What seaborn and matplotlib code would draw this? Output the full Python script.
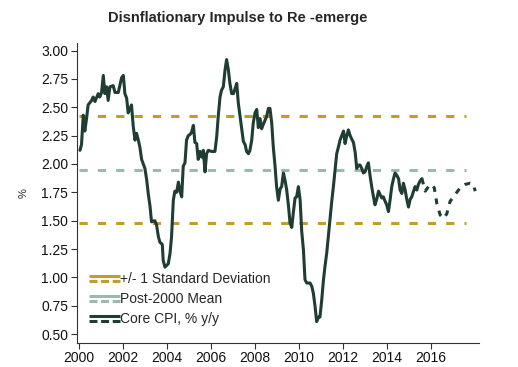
import matplotlib
matplotlib.use("Agg")
import matplotlib.pyplot as plt
from matplotlib.lines import Line2D
from matplotlib.legend_handler import HandlerBase
import numpy as np
import pandas as pd
import seaborn as sns

# traced core CPI, % y/y (year fraction, value)
cpi_years = [
    2000.05, 2000.12, 2000.20, 2000.27, 2000.35, 2000.42, 2000.58, 2000.65, 2000.73, 2000.88,
    2000.95, 2001.03, 2001.11, 2001.18, 2001.26, 2001.33, 2001.41, 2001.56, 2001.64, 2001.79,
    2001.94, 2002.02, 2002.09, 2002.17, 2002.24, 2002.32, 2002.39, 2002.47, 2002.55, 2002.62,
    2002.70, 2002.77, 2002.85, 2003.00, 2003.08, 2003.15, 2003.23, 2003.30, 2003.45, 2003.53,
    2003.61, 2003.68, 2003.79, 2003.83, 2003.91, 2004.06, 2004.14, 2004.21, 2004.29, 2004.36,
    2004.44, 2004.52, 2004.59, 2004.67, 2004.74, 2004.82, 2004.89, 2004.97, 2005.05, 2005.12,
    2005.20, 2005.27, 2005.35, 2005.42, 2005.50, 2005.58, 2005.65, 2005.73, 2005.80, 2005.88,
    2006.03, 2006.18, 2006.26, 2006.33, 2006.41, 2006.48, 2006.56, 2006.64, 2006.71, 2006.79,
    2006.86, 2006.94, 2007.02, 2007.09, 2007.17, 2007.24, 2007.32, 2007.39, 2007.47, 2007.55,
    2007.62, 2007.70, 2007.77, 2007.85, 2007.92, 2008.00, 2008.08, 2008.15, 2008.23, 2008.30,
    2008.38, 2008.53, 2008.61, 2008.68, 2008.76, 2008.83, 2008.91, 2008.98, 2009.06, 2009.14,
    2009.21, 2009.29, 2009.36, 2009.44, 2009.52, 2009.59, 2009.67, 2009.74, 2009.82, 2009.89,
    2009.97, 2010.05, 2010.12, 2010.20, 2010.27, 2010.35, 2010.50, 2010.58, 2010.65, 2010.73,
    2010.80, 2010.88, 2010.95, 2011.03, 2011.11, 2011.18, 2011.26, 2011.33, 2011.41, 2011.48,
    2011.56, 2011.64, 2011.71, 2011.79, 2011.86, 2011.94, 2012.02, 2012.09, 2012.17, 2012.24,
    2012.32, 2012.39, 2012.47, 2012.55, 2012.62, 2012.70, 2012.77, 2012.85, 2012.92, 2013.00,
    2013.08, 2013.15, 2013.23, 2013.30, 2013.38, 2013.45, 2013.53, 2013.61, 2013.68, 2013.76,
    2013.83, 2013.91, 2013.98, 2014.06, 2014.14, 2014.21, 2014.29, 2014.36, 2014.44, 2014.52,
    2014.59, 2014.67, 2014.74, 2014.82, 2014.89, 2014.97, 2015.05, 2015.12, 2015.20, 2015.27,
    2015.35, 2015.42, 2015.50, 2015.58,
]
cpi_values = [
    2.12, 2.17, 2.43, 2.29, 2.40, 2.52, 2.56, 2.59, 2.55, 2.62,
    2.59, 2.63, 2.78, 2.62, 2.68, 2.56, 2.68, 2.69, 2.63, 2.63,
    2.76, 2.78, 2.62, 2.58, 2.45, 2.49, 2.52, 2.33, 2.21, 2.27,
    2.21, 2.15, 2.04, 1.96, 1.86, 1.74, 1.63, 1.49, 1.50, 1.46,
    1.36, 1.31, 1.29, 1.15, 1.09, 1.12, 1.21, 1.36, 1.68, 1.76,
    1.75, 1.84, 1.76, 1.71, 1.98, 2.01, 2.21, 2.25, 2.26, 2.28,
    2.34, 2.19, 2.18, 2.04, 2.11, 2.06, 2.12, 1.93, 2.09, 2.12,
    2.11, 2.11, 2.24, 2.42, 2.59, 2.65, 2.68, 2.83, 2.92, 2.83,
    2.71, 2.62, 2.62, 2.66, 2.71, 2.54, 2.42, 2.31, 2.20, 2.17,
    2.11, 2.09, 2.12, 2.21, 2.36, 2.45, 2.48, 2.32, 2.40, 2.31,
    2.35, 2.42, 2.49, 2.49, 2.36, 2.15, 1.98, 1.80, 1.68, 1.78,
    1.80, 1.92, 1.86, 1.77, 1.63, 1.48, 1.44, 1.57, 1.70, 1.71,
    1.80, 1.68, 1.41, 1.24, 0.98, 0.95, 0.95, 0.92, 0.86, 0.74,
    0.61, 0.65, 0.65, 0.80, 0.98, 1.10, 1.22, 1.36, 1.51, 1.66,
    1.80, 1.95, 2.09, 2.15, 2.21, 2.25, 2.29, 2.18, 2.25, 2.30,
    2.25, 2.22, 2.19, 2.10, 1.96, 1.99, 1.99, 1.96, 1.92, 1.93,
    1.98, 2.01, 1.89, 1.80, 1.71, 1.64, 1.69, 1.76, 1.73, 1.70,
    1.71, 1.67, 1.64, 1.58, 1.69, 1.80, 1.87, 1.92, 1.90, 1.87,
    1.77, 1.74, 1.83, 1.77, 1.69, 1.62, 1.69, 1.71, 1.76, 1.80,
    1.77, 1.82, 1.85, 1.87,
]

# projection (dashed)
proj_years = [2015.58, 2015.73, 2015.88, 2016.03, 2016.14, 2016.26, 2016.41, 2016.56,
              2016.71, 2016.86, 2017.09, 2017.32, 2017.55, 2017.77, 2017.92, 2018.00]
proj_values = [1.87, 1.76, 1.80, 1.82, 1.79, 1.65, 1.55, 1.52,
               1.56, 1.67, 1.73, 1.79, 1.82, 1.83, 1.82, 1.76]

mean_level = 1.95
std_dev = 0.47
band_span = [2000.0, 2017.6]

x_ticks = [2000, 2002, 2004, 2006, 2008, 2010, 2012, 2014, 2016]
y_ticks = [0.50, 0.75, 1.00, 1.25, 1.50, 1.75, 2.00, 2.25, 2.50, 2.75, 3.00]

GOLD = "#C49B2C"
MEAN = "#9DB8AD"
DARK = "#1F3D33"


class TwoLineHandler(HandlerBase):
    # solid line on top, dashed line below, like the original legend keys
    def create_artists(self, legend, orig_handle, xdescent, ydescent,
                       width, height, fontsize, trans):
        c = orig_handle.get_color()
        y_top = height * 0.72 - ydescent
        y_bot = height * 0.22 - ydescent
        xs = [-xdescent, -xdescent + width]
        top = Line2D(xs, [y_top, y_top], color=c, lw=2.2, solid_capstyle="butt")
        bot = Line2D(xs, [y_bot, y_bot], color=c, lw=2.2, linestyle=(0, (2.6, 1.2)),
                     dash_capstyle="butt")
        top.set_transform(trans)
        bot.set_transform(trans)
        return [top, bot]


sns.set_style("ticks")
plt.rcParams["font.family"] = ["Liberation Sans", "DejaVu Sans"]

fig = plt.figure(figsize=(5.18, 3.67), dpi=100)
ax = fig.add_axes([0.148, 0.065, 0.777, 0.819])

cpi = pd.DataFrame({"year": cpi_years, "value": cpi_values})
proj = pd.DataFrame({"year": proj_years, "value": proj_values})

ax.hlines([mean_level + std_dev, mean_level - std_dev], band_span[0], band_span[1],
          colors=GOLD, lw=2.2, linestyles=(0, (2.7, 3.3)))
ax.hlines(mean_level, band_span[0], band_span[1], colors=MEAN, lw=2.2,
          linestyles=(0, (2.7, 3.3)))
sns.lineplot(data=cpi, x="year", y="value", color=DARK, lw=2.2, ax=ax)
sns.lineplot(data=proj, x="year", y="value", color=DARK, lw=2.2, ax=ax,
             linestyle=(0, (1.9, 2.2)))

ax.set_xlim(1999.9, 2018.18)
ax.set_ylim(0.42, 3.07)
ax.set_xticks(x_ticks)
ax.set_xticklabels([str(t) for t in x_ticks])
ax.set_yticks(y_ticks)
ax.set_yticklabels([f"{t:.2f}" for t in y_ticks])
ax.tick_params(labelsize=10, length=4, width=0.8, color="#333333", labelcolor="#111111", pad=2)
for s in ["left", "bottom"]:
    ax.spines[s].set_color("#333333")
    ax.spines[s].set_linewidth(0.8)
sns.despine(ax=ax)

ax.set_xlabel("")
ax.set_ylabel("%", fontsize=8, labelpad=9)

handles = [Line2D([], [], color=GOLD), Line2D([], [], color=MEAN), Line2D([], [], color=DARK)]
labels = ["+/- 1 Standard Deviation", "Post-2000 Mean", "Core CPI, % y/y"]
ax.legend(handles, labels, loc="lower left", bbox_to_anchor=(0.01, 0.03), frameon=False,
          fontsize=10, handlelength=2.2, handletextpad=0.05, labelspacing=0.42,
          handler_map={Line2D: TwoLineHandler()}, borderaxespad=0.2)

fig.text(0.458, 0.951, "Disnflationary Impulse to Re -emerge", ha="center", va="center",
         fontsize=10.5, fontweight="bold")

fig.savefig("out.png", dpi=100)
